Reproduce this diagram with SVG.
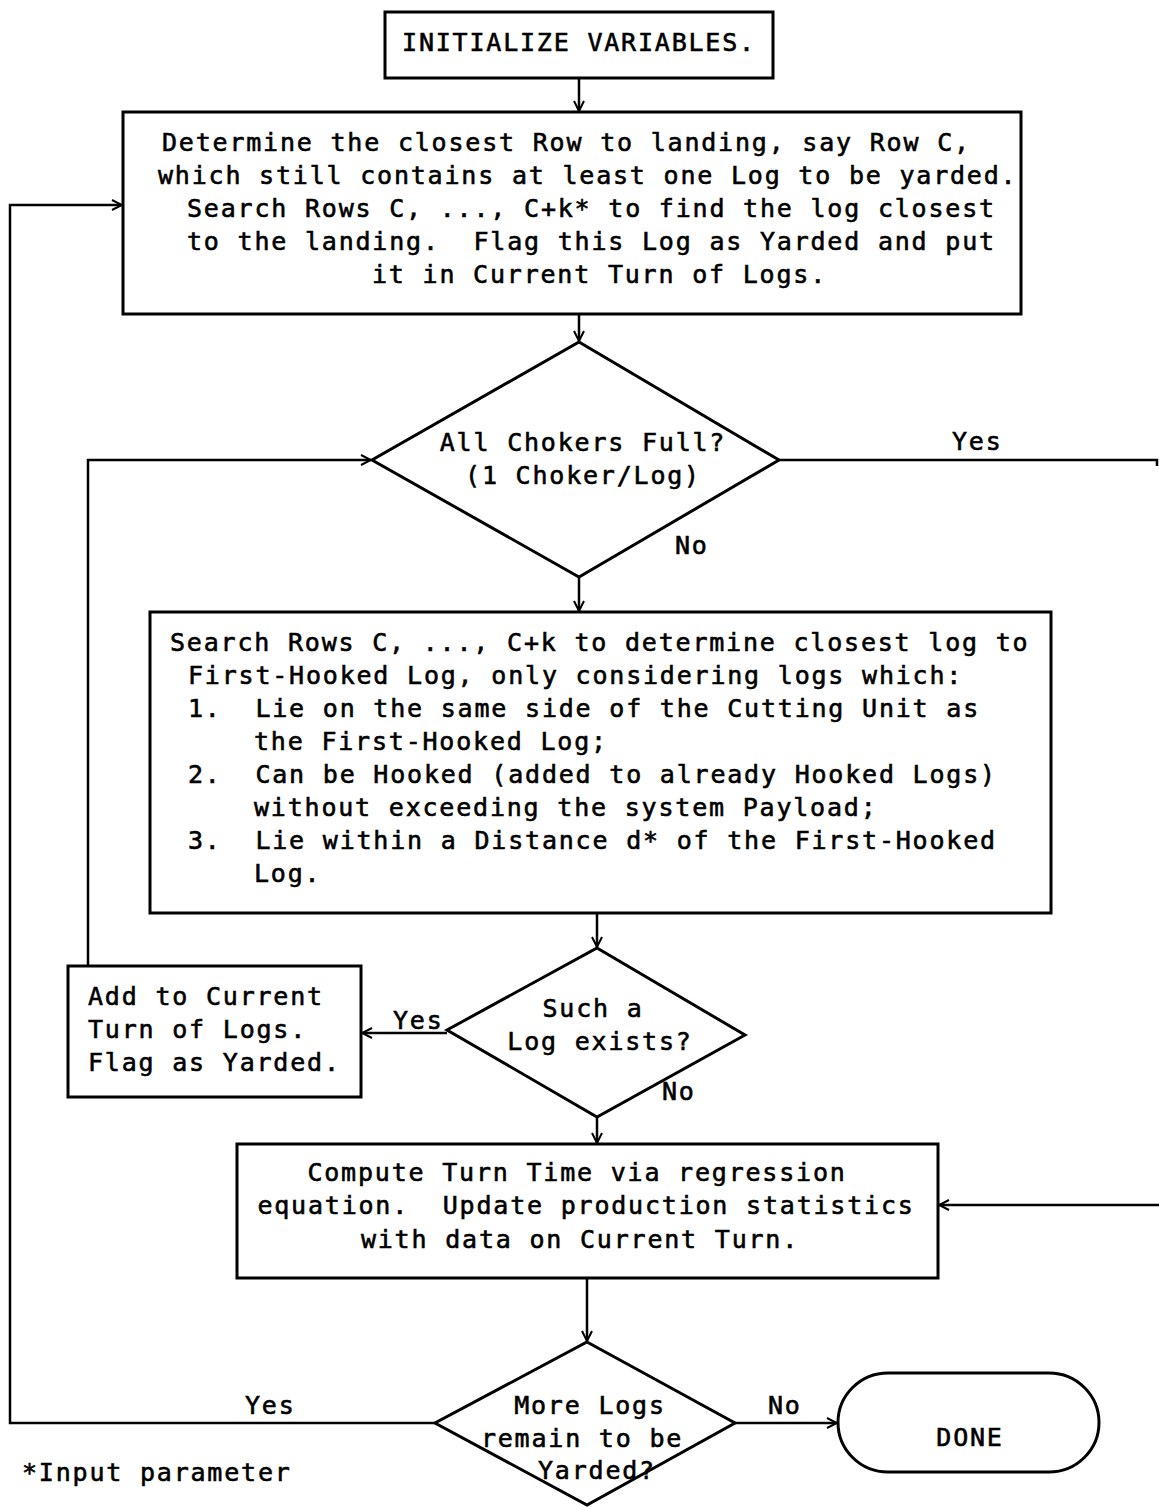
<svg xmlns="http://www.w3.org/2000/svg" width="1159" height="1507" viewBox="0 0 1159 1507">
<style>
.box{fill:#fff;stroke:#000;stroke-width:3}
.ln{fill:none;stroke:#000;stroke-width:2.5}
.t{font-family:"DejaVu Sans Mono","Liberation Mono",monospace;font-size:25px;letter-spacing:1.8px;fill:#000;stroke:#000;stroke-width:0.6}
.c{text-anchor:middle}
</style>
<defs>
<marker id="ah" viewBox="0 0 12 12" refX="11" refY="6" markerWidth="12" markerHeight="12" markerUnits="userSpaceOnUse" orient="auto">
<path d="M1,1 L11,6 L1,11" fill="none" stroke="#000" stroke-width="2"/>
</marker>
</defs>
<g id="connectors">
<line class="ln" x1="579" y1="78" x2="579" y2="111" marker-end="url(#ah)"/>
<line class="ln" x1="579" y1="314" x2="579" y2="341" marker-end="url(#ah)"/>
<line class="ln" x1="579" y1="577" x2="579" y2="611" marker-end="url(#ah)"/>
<line class="ln" x1="597" y1="913" x2="597" y2="947" marker-end="url(#ah)"/>
<line class="ln" x1="597" y1="1117" x2="597" y2="1143" marker-end="url(#ah)"/>
<line class="ln" x1="587" y1="1278" x2="587" y2="1341" marker-end="url(#ah)"/>
<polyline class="ln" points="779,460 1157,460 1157,466"/>
<line class="ln" x1="1159" y1="1205" x2="939" y2="1205" marker-end="url(#ah)"/>
<line class="ln" x1="447" y1="1033" x2="362" y2="1033" marker-end="url(#ah)"/>
<polyline class="ln" points="88,966 88,460 371,460" marker-end="url(#ah)"/>
<polyline class="ln" points="435,1423 10,1423 10,205 122,205" marker-end="url(#ah)"/>
<line class="ln" x1="735" y1="1423" x2="837" y2="1423" marker-end="url(#ah)"/>
<text class="t" x="952" y="450">Yes</text>
<text class="t" x="675" y="554">No</text>
<text class="t" x="393" y="1029">Yes</text>
<text class="t" x="662" y="1100">No</text>
<text class="t" x="245" y="1414">Yes</text>
<text class="t" x="768" y="1414">No</text>
</g>
<g id="init">
<rect class="box" x="385" y="12" width="388" height="66"/>
<text class="t c" x="579" y="51">INITIALIZE VARIABLES.</text>
</g>
<g id="determine">
<rect class="box" x="123" y="112" width="898" height="202"/>
<text class="t" xml:space="preserve"><tspan x="162" y="151">Determine the closest Row to landing, say Row C,</tspan><tspan x="158" y="184">which still contains at least one Log to be yarded.</tspan><tspan x="187" y="217">Search Rows C, ..., C+k* to find the log closest</tspan><tspan x="187" y="250">to the landing.  Flag this Log as Yarded and put</tspan><tspan x="372" y="283">it in Current Turn of Logs.</tspan></text>
</g>
<g id="chokers">
<polygon class="box" points="579,342 779,460 579,577 372,460"/>
<text class="t c" x="583" y="451">All Chokers Full?</text>
<text class="t c" x="583" y="484">(1 Choker/Log)</text>
</g>
<g id="search">
<rect class="box" x="150" y="612" width="901" height="301"/>
<text class="t" xml:space="preserve"><tspan x="170" y="651">Search Rows C, ..., C+k to determine closest log to</tspan><tspan x="188" y="684">First-Hooked Log, only considering logs which:</tspan><tspan x="188" y="717">1.  Lie on the same side of the Cutting Unit as</tspan><tspan x="254" y="750">the First-Hooked Log;</tspan><tspan x="188" y="783">2.  Can be Hooked (added to already Hooked Logs)</tspan><tspan x="254" y="816">without exceeding the system Payload;</tspan><tspan x="188" y="849">3.  Lie within a Distance d* of the First-Hooked</tspan><tspan x="254" y="882">Log.</tspan></text>
</g>
<g id="exists">
<polygon class="box" points="597,948 745,1035 597,1117 447,1030"/>
<text class="t c" x="593" y="1017">Such a</text>
<text class="t c" x="600" y="1050">Log exists?</text>
</g>
<g id="add">
<rect class="box" x="68" y="966" width="293" height="131"/>
<text class="t"><tspan x="88" y="1005">Add to Current</tspan><tspan x="88" y="1038">Turn of Logs.</tspan><tspan x="88" y="1071">Flag as Yarded.</tspan></text>
</g>
<g id="compute">
<rect class="box" x="237" y="1144" width="701" height="134"/>
<text class="t c" xml:space="preserve"><tspan x="577" y="1181">Compute Turn Time via regression</tspan><tspan x="586" y="1214">equation.  Update production statistics</tspan><tspan x="580" y="1248">with data on Current Turn.</tspan></text>
</g>
<g id="more">
<polygon class="box" points="587,1342 735,1423 587,1505 435,1423"/>
<text class="t c" x="590" y="1414">More Logs</text>
<text class="t c" x="582" y="1447">remain to be</text>
<text class="t c" x="597" y="1479">Yarded?</text>
</g>
<g id="done">
<rect class="box" x="838" y="1373" width="261" height="99" rx="50" ry="50"/>
<text class="t c" x="970" y="1446">DONE</text>
</g>
<g id="note">
<text class="t" x="22" y="1481">*Input parameter</text>
</g>
</svg>
